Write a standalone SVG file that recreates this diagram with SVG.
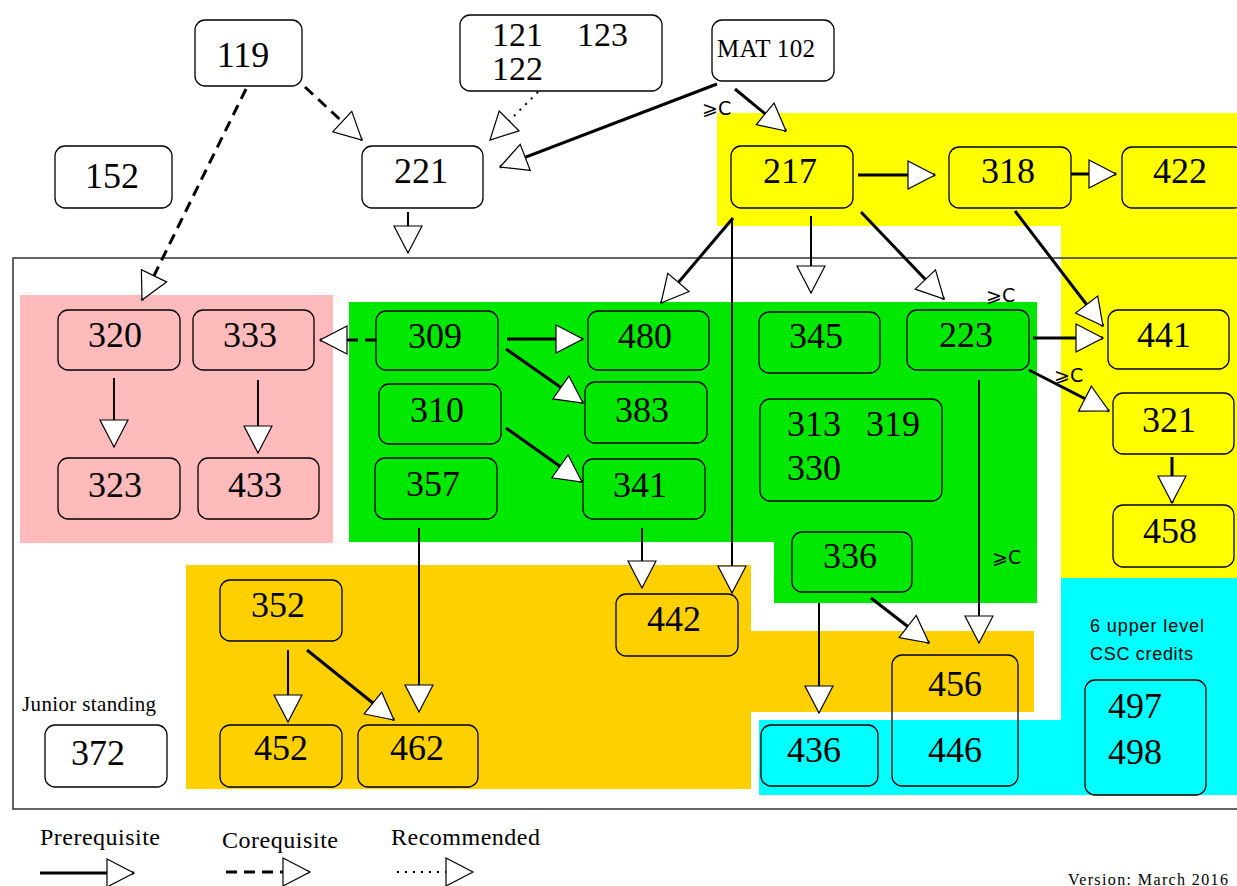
<svg xmlns="http://www.w3.org/2000/svg" width="1237" height="886" viewBox="0 0 1237 886">
<style>
.box{fill:none;stroke:#000;stroke-width:1.3}
.num{font-family:"Liberation Serif",serif;font-size:36px;text-anchor:middle;fill:#000}
.st{text-anchor:start}
.two{font-size:34px}
.lbl{font-family:"DejaVu Sans",sans-serif;font-size:19px;fill:#000}
.ser{font-family:"Liberation Serif",serif;fill:#000}
.sans{font-family:"Liberation Sans",sans-serif;fill:#000}
.c{fill:none;stroke:#000;stroke-width:3;marker-end:url(#ah)}
.t{stroke-width:2}
.co{stroke-dasharray:11 7}
.rec{stroke-dasharray:2 6;stroke-width:2}
</style>
<defs>
<marker id="ah" markerUnits="userSpaceOnUse" viewBox="0 0 30 30" markerWidth="30" markerHeight="30" refX="28" refY="15" orient="auto">
<path d="M1,1 L28,15 L1,29 Z" fill="#fff" stroke="#000" stroke-width="1.2"/>
</marker>
</defs>
<rect width="1237" height="886" fill="#fff"/>
<g id="regions">
<polygon points="717,113 1237,113 1237,578 1061,578 1061,226 717,226" fill="#ffff00"/>
<rect x="20" y="295" width="313" height="248" fill="#ffbbbb"/>
<polygon points="349,302 1037,302 1037,603 774,603 774,542 349,542" fill="#00e800"/>
<polygon points="186,565 751,565 751,631 1034,631 1034,712 751,712 751,789 186,789" fill="#ffd000"/>
<polygon points="759,720 1061,720 1061,578 1237,578 1237,795 759,795" fill="#00ffff"/>
<rect x="13" y="258" width="1240" height="551" fill="none" stroke="#333" stroke-width="1.5"/>
</g>
<g id="n119"><rect class="box" x="195" y="20" width="107" height="66" rx="10"/><text class="num" x="243" y="67">119</text></g>
<g id="n152"><rect class="box" x="55" y="146" width="117" height="62" rx="10"/><text class="num" x="112" y="188">152</text></g>
<g id="n221"><rect class="box" x="362" y="146" width="121" height="62" rx="10"/><text class="num" x="421" y="183">221</text></g>
<g id="n121"><rect class="box" x="460" y="15" width="202" height="76" rx="10"/><text class="num st two" x="492" y="46">121</text><text class="num st two" x="577" y="46">123</text><text class="num st two" x="492" y="80">122</text></g>
<g id="nMAT102"><rect class="box" x="712" y="20" width="122" height="61" rx="10"/><text class="ser" x="766" y="57" font-size="25" text-anchor="middle" textLength="98">MAT 102</text></g>
<g id="n217"><rect class="box" x="731" y="146" width="122" height="62" rx="10"/><text class="num" x="790" y="183">217</text></g>
<g id="n318"><rect class="box" x="949" y="147" width="122" height="61" rx="10"/><text class="num" x="1008" y="183">318</text></g>
<g id="n422"><rect class="box" x="1122" y="147" width="122" height="61" rx="10"/><text class="num" x="1180" y="183">422</text></g>
<g id="n320"><rect class="box" x="58" y="310" width="122" height="60" rx="10"/><text class="num" x="115" y="347">320</text></g>
<g id="n333"><rect class="box" x="193" y="310" width="121" height="60" rx="10"/><text class="num" x="250" y="347">333</text></g>
<g id="n323"><rect class="box" x="58" y="458" width="122" height="61" rx="10"/><text class="num" x="115" y="497">323</text></g>
<g id="n433"><rect class="box" x="198" y="458" width="121" height="61" rx="10"/><text class="num" x="255" y="497">433</text></g>
<g id="n309"><rect class="box" x="376" y="311" width="122" height="59" rx="10"/><text class="num" x="435" y="348">309</text></g>
<g id="n480"><rect class="box" x="588" y="311" width="121" height="59" rx="10"/><text class="num" x="645" y="348">480</text></g>
<g id="n310"><rect class="box" x="379" y="384" width="122" height="60" rx="10"/><text class="num" x="437" y="422">310</text></g>
<g id="n383"><rect class="box" x="585" y="382" width="122" height="61" rx="10"/><text class="num" x="642" y="422">383</text></g>
<g id="n357"><rect class="box" x="375" y="458" width="122" height="61" rx="10"/><text class="num" x="433" y="496">357</text></g>
<g id="n341"><rect class="box" x="583" y="459" width="122" height="60" rx="10"/><text class="num" x="640" y="497">341</text></g>
<g id="n345"><rect class="box" x="759" y="312" width="121" height="61" rx="10"/><text class="num" x="816" y="348">345</text></g>
<g id="n223"><rect class="box" x="907" y="310" width="122" height="60" rx="10"/><text class="num" x="966" y="347">223</text></g>
<g id="n441"><rect class="box" x="1108" y="310" width="121" height="59" rx="10"/><text class="num" x="1164" y="347">441</text></g>
<g id="n321"><rect class="box" x="1113" y="393" width="121" height="61" rx="10"/><text class="num" x="1169" y="432">321</text></g>
<g id="n458"><rect class="box" x="1113" y="505" width="121" height="62" rx="10"/><text class="num" x="1170" y="543">458</text></g>
<g id="n313"><rect class="box" x="760" y="399" width="182" height="102" rx="10"/><text class="num st" x="787" y="436">313</text><text class="num st" x="866" y="436">319</text><text class="num st" x="787" y="480">330</text></g>
<g id="n336"><rect class="box" x="792" y="532" width="120" height="60" rx="10"/><text class="num" x="850" y="568">336</text></g>
<g id="n442"><rect class="box" x="616" y="594" width="122" height="62" rx="10"/><text class="num" x="674" y="631">442</text></g>
<g id="n456"><rect class="box" x="892" y="655" width="126" height="131" rx="10"/><text class="num" x="955" y="696">456</text><text class="num" x="955" y="762">446</text></g>
<g id="n436"><rect class="box" x="761" y="725" width="117" height="61" rx="10"/><text class="num" x="814" y="762">436</text></g>
<g id="n497"><rect class="box" x="1085" y="680" width="121" height="115" rx="10"/><text class="num" x="1135" y="718">497</text><text class="num" x="1135" y="764">498</text></g>
<g id="n352"><rect class="box" x="220" y="580" width="122" height="61" rx="10"/><text class="num" x="278" y="617">352</text></g>
<g id="n452"><rect class="box" x="220" y="725" width="122" height="62" rx="10"/><text class="num" x="281" y="760">452</text></g>
<g id="n462"><rect class="box" x="358" y="725" width="120" height="62" rx="10"/><text class="num" x="417" y="760">462</text></g>
<g id="n372"><rect class="box" x="45" y="725" width="122" height="62" rx="10"/><text class="num" x="98" y="765">372</text></g>
<g id="labels">
<text class="ser" x="22" y="711" font-size="21" textLength="134">Junior standing</text>
<text class="sans" x="1090" y="632" font-size="18" textLength="114">6 upper level</text>
<text class="sans" x="1090" y="660" font-size="18" textLength="103">CSC credits</text>
<text class="lbl" x="702" y="115">⩾C</text>
<text class="lbl" x="986" y="302">⩾C</text>
<text class="lbl" x="1054" y="382">⩾C</text>
<text class="lbl" x="992" y="564">⩾C</text>
</g>
<g id="connectors">
<line class="c co" x1="305" y1="87" x2="362" y2="140"/>
<line class="c co" x1="246" y1="89" x2="142" y2="300"/>
<line class="c rec" x1="538" y1="92" x2="490" y2="140"/>
<line class="c" x1="717" y1="84" x2="500" y2="167"/>
<line class="c" x1="735" y1="89" x2="786" y2="131"/>
<line class="c" x1="858" y1="175" x2="935" y2="175"/>
<line class="c" x1="1071" y1="174" x2="1116" y2="174"/>
<line class="c" x1="1015" y1="211" x2="1103" y2="326"/>
<line class="c" x1="861" y1="212" x2="944" y2="299"/>
<line class="c" x1="733" y1="218" x2="661" y2="303"/>
<line class="c t" x1="732" y1="218" x2="732" y2="593"/>
<line class="c t" x1="811" y1="216" x2="811" y2="293"/>
<line class="c t" x1="408" y1="212" x2="408" y2="253"/>
<line class="c co" x1="376" y1="340" x2="320" y2="340"/>
<line class="c" x1="507" y1="339" x2="583" y2="339"/>
<line class="c" x1="506" y1="349" x2="583" y2="403"/>
<line class="c" x1="506" y1="428" x2="582" y2="482"/>
<line class="c t" x1="114" y1="378" x2="114" y2="447"/>
<line class="c t" x1="258" y1="380" x2="258" y2="453"/>
<line class="c t" x1="419" y1="528" x2="419" y2="712"/>
<line class="c t" x1="642" y1="528" x2="642" y2="588"/>
<line class="c" x1="1033" y1="338" x2="1103" y2="338"/>
<line class="c" x1="1029" y1="370" x2="1109" y2="411"/>
<line class="c t" x1="979" y1="380" x2="979" y2="643"/>
<line class="c t" x1="819" y1="603" x2="819" y2="713"/>
<line class="c" x1="871" y1="598" x2="929" y2="643"/>
<line class="c" x1="1172" y1="457" x2="1172" y2="503"/>
<line class="c t" x1="288" y1="650" x2="288" y2="722"/>
<line class="c" x1="307" y1="650" x2="394" y2="720"/>
</g>
<g id="legend">
<text class="ser" x="40" y="845" font-size="24" textLength="120">Prerequisite</text>
<text class="ser" x="222" y="848" font-size="24" textLength="116">Corequisite</text>
<text class="ser" x="391" y="845" font-size="24" textLength="149">Recommended</text>
<line class="c" x1="40" y1="873" x2="134" y2="873"/>
<line class="c co" x1="226" y1="872" x2="310" y2="872"/>
<line class="c rec" x1="397" y1="872" x2="473" y2="872"/>
<text class="ser" x="1068" y="885" font-size="16" textLength="160">Version: March 2016</text>
</g>
</svg>
